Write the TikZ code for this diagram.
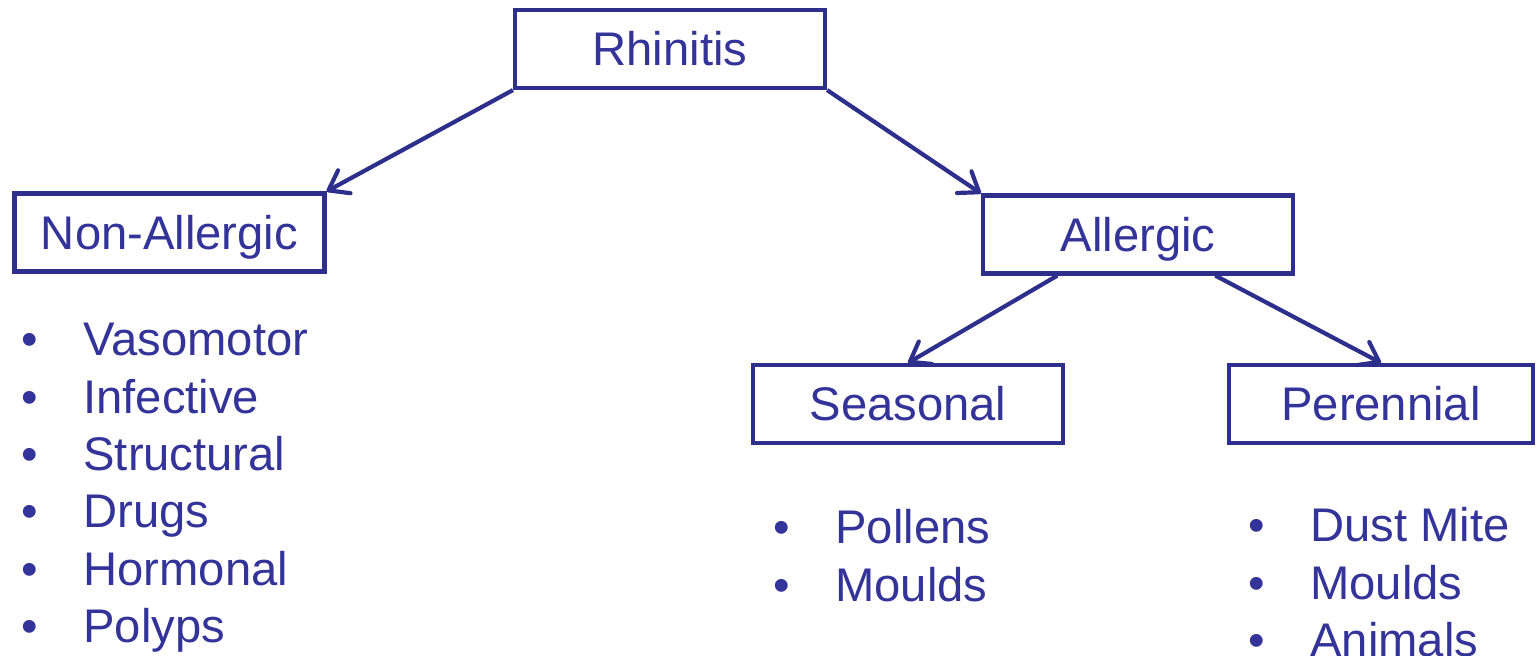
\documentclass[tikz,border=0pt]{standalone}
\usepackage{fontspec}
\setmainfont{Liberation Sans}
\usepackage{tikz}
\usetikzlibrary{arrows.meta}
\definecolor{rhintext}{RGB}{51,51,153}
\definecolor{rhinedge}{RGB}{46,46,140}

\begin{document}
\begin{tikzpicture}[
  x=0.5pt,y=-0.5pt,
  font=\fontsize{23.6}{28}\selectfont,
  arrow/.style={-{Straight Barb[length=9pt,width=13pt,round]},line width=2.1pt,draw=rhinedge},
  catbox/.style={draw=rhinedge,line width=2.1pt,fill=white,text=rhintext,
    minimum width=155pt,minimum height=39pt,inner sep=0pt,
    text height=16.9pt,text depth=0pt},
  bulletmark/.style={anchor=base,text=rhintext,inner sep=0pt},
  itemtext/.style={anchor=base west,text=rhintext,inner sep=0pt}
]
\useasboundingbox (0,0) rectangle (1537,656);

% Category boxes.
\node[catbox] (rhinitis) at (670,49) {Rhinitis};
\node[catbox] (nonallergic) at (169.5,232.5) {Non-Allergic};
\node[catbox] (allergic) at (1138,234.5) {Allergic};
\node[catbox] (seasonal) at (908,404) {Seasonal};
\node[catbox,minimum width=152pt] (perennial) at (1381,404) {Perennial};

\draw[arrow] (rhinitis.south west) -- (nonallergic.north east);
\draw[arrow] (rhinitis.south east) -- (allergic.north west);
\draw[arrow] (allergic.207) -- (seasonal.north);
\draw[arrow] (allergic.332) -- (perennial.north);

% Causes listed under each box.
\foreach \itm [count=\i] in {Vasomotor,Infective,Structural,Drugs,Hormonal,Polyps} {
  \node[bulletmark] (nab\i) at (30,{356+57.3*(\i-1)}) {\textbullet};
  \node[itemtext] (nat\i) at (83,{356+57.3*(\i-1)}) {\itm};
}
\foreach \itm [count=\i] in {Pollens,Moulds} {
  \node[bulletmark] (seb\i) at (782,{544+57.3*(\i-1)}) {\textbullet};
  \node[itemtext] (set\i) at (835,{544+57.3*(\i-1)}) {\itm};
}
\foreach \itm [count=\i] in {Dust Mite,Moulds,Animals} {
  \node[bulletmark] (peb\i) at (1257,{542+57.3*(\i-1)}) {\textbullet};
  \node[itemtext] (pet\i) at (1310,{542+57.3*(\i-1)}) {\itm};
}
\end{tikzpicture}
\end{document}
